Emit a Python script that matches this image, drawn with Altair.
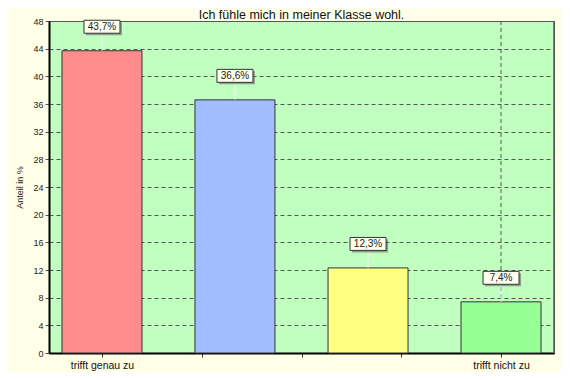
import altair as alt
import pandas as pd

title_text = "Ich fühle mich in meiner Klasse wohl."
categories = ["trifft genau zu", "trifft eher zu", "trifft eher nicht zu", "trifft nicht zu"]
positions = [1.0, 2.333, 3.667, 5.0]
values = [43.7, 36.6, 12.3, 7.4]
labels = ["43,7%", "36,6%", "12,3%", "7,4%"]
colors = ["#FF8C8C", "#A0BEFF", "#FFFF80", "#96FF96"]
y_ticks = list(range(0, 49, 4))
x_ticks = [1, 2, 3, 4, 5]

df = pd.DataFrame({"cat": categories, "pos": positions, "val": values,
                   "label": labels, "color": colors})

FONT = "Liberation Sans"
xscale = alt.Scale(domain=[0.469, 5.531], nice=False, zero=False)
yscale = alt.Scale(domain=[0, 48], nice=False)

xaxis = alt.Axis(values=x_ticks, title=None, grid=False,
                 labelExpr="datum.value == 1 ? 'trifft genau zu' : datum.value == 5 ? 'trifft nicht zu' : ''",
                 domainColor="#000000", domainWidth=2, tickColor="#333333",
                 tickSize=4, labelFontSize=10.5, labelColor="#111111",
                 labelFont=FONT, labelPadding=3)
yaxis = alt.Axis(values=y_ticks, title="Anteil in %", grid=True,
                 gridDash=[4, 3], gridColor="#555555", gridWidth=1,
                 domainColor="#000000", domainWidth=2, tickColor="#555555",
                 tickSize=4, labelFontSize=9, labelColor="#222222",
                 labelFont=FONT, titleFont=FONT, titleFontSize=9,
                 titleFontWeight="normal", titleColor="#222222",
                 titlePadding=8, labelOverlap=False)

base = alt.Chart(df)

vgrid = alt.Chart(pd.DataFrame({"x": [5]})).mark_rule(
    strokeDash=[4, 3], color="#555555", strokeWidth=1
).encode(x=alt.X("x:Q", scale=xscale, axis=xaxis), y=alt.value(0), y2=alt.value(332))

bars = base.transform_calculate(
    x1="datum.pos - 0.401", x2="datum.pos + 0.401"
).mark_rect(stroke="#333333", strokeWidth=1).encode(
    x=alt.X("x1:Q", scale=xscale, axis=xaxis),
    x2="x2:Q",
    y=alt.Y("val:Q", scale=yscale, axis=yaxis),
    y2=alt.datum(0),
    fill=alt.Fill("color:N", scale=None),
)

rborder = alt.Chart(pd.DataFrame({"x": [5.531]})).mark_rule(
    color="#555555", strokeWidth=1.5
).encode(x=alt.X("x:Q", scale=xscale, axis=xaxis), y=alt.value(0), y2=alt.value(332))

connector = base.mark_rule(color="#F4F4F4", strokeWidth=1, y2Offset=-18).encode(
    x=alt.X("pos:Q", scale=xscale, axis=xaxis),
    y=alt.Y("val:Q", scale=yscale, axis=yaxis),
    y2="val:Q",
)

box_shape = "M-1,-0.36L1,-0.36L1,0.36L-1,0.36Z"
shadow = base.mark_point(shape=box_shape, size=1296, filled=True, fill="#666666",
                         opacity=0.6, strokeWidth=0, xOffset=2, yOffset=-22).encode(
    x=alt.X("pos:Q", scale=xscale, axis=xaxis), y=alt.Y("val:Q", scale=yscale, axis=yaxis))

box = base.mark_point(shape=box_shape, size=1296, filled=True, fill="#FFFFEE",
                      stroke="#333333", strokeWidth=1, opacity=1, yOffset=-24).encode(
    x=alt.X("pos:Q", scale=xscale, axis=xaxis), y=alt.Y("val:Q", scale=yscale, axis=yaxis))

text = base.mark_text(font=FONT, fontSize=10, color="#222222", yOffset=-24,
                      baseline="middle", align="center").encode(
    x=alt.X("pos:Q", scale=xscale, axis=xaxis), y=alt.Y("val:Q", scale=yscale, axis=yaxis),
    text="label:N")

chart = alt.layer(vgrid, bars, rborder, connector, shadow, box, text).properties(
    width=505, height=332,
    title=alt.TitleParams(title_text, font=FONT, fontSize=12.5, fontWeight="normal",
                          color="#111111", anchor="middle", frame="group", offset=-4),
    autosize=alt.AutoSizeParams(type="none"),
    padding={"left": 41, "top": 13, "right": 8, "bottom": 19},
    background="#FFFFE8",
).configure_view(fill="#C0FFC0", stroke="#555555", strokeWidth=1)

chart.save("out.html", embed_options={"renderer": "svg", "actions": False})
